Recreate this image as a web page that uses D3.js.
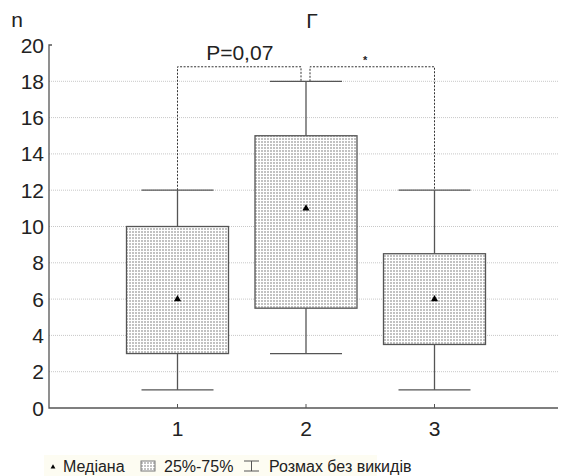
<!DOCTYPE html>
<html>
<head>
<meta charset="utf-8">
<script src="https://cdn.jsdelivr.net/npm/d3@7"></script>
<style>
body{margin:0;background:#fff}
svg{display:block}
text{font-family:"Liberation Sans",Arial,sans-serif;fill:#222}
</style>
</head>
<body>
<svg id="chart" width="564" height="476"></svg>
<script>
// groups and box stats
var groups = [1, 2, 3]
var whiskLow = [1, 3, 1]
var whiskHigh = [12, 18, 12]
var q1 = [3, 5.5, 3.5]
var q3 = [10, 15, 8.5]
var medians = [6, 11, 6]
var yTicks = [0, 2, 4, 6, 8, 10, 12, 14, 16, 18, 20]
var bracketLevel = 18.8
var legendLabels = ["Медіана", "25%-75%", "Розмах без викидів"]

var svg = d3.select("#chart")
var x = d3.scaleLinear().domain([0, 4]).range([49, 563])
var y = d3.scaleLinear().domain([0, 20]).range([408, 45])
var boxW = 102, capW = 72
var axisRight = 558

var defs = svg.append("defs")
var pat = defs.append("pattern").attr("id", "dots").attr("patternUnits", "userSpaceOnUse")
    .attr("width", 3).attr("height", 3)
pat.append("rect").attr("width", 3).attr("height", 3).attr("fill", "#fff")
pat.append("rect").attr("width", 2).attr("height", 2).attr("fill", "#c2c2c2")

// grid
svg.append("g").selectAll("line").data(yTicks.filter(function(d){return d > 0 && d < 20}))
    .enter().append("line")
    .attr("x1", x(0)).attr("x2", axisRight)
    .attr("y1", function(d){return y(d)}).attr("y2", function(d){return y(d)})
    .attr("stroke", "#c8c8c8").attr("stroke-width", 1).attr("stroke-dasharray", "1,1")

// axes
svg.append("path").attr("d", "M" + (x(0) + 3) + "," + y(20) + "H" + x(0) + "V" + y(0) + "H" + axisRight)
    .attr("fill", "none").attr("stroke", "#555").attr("stroke-width", 1.3)
svg.append("g").selectAll("line").data(groups).enter().append("line")
    .attr("x1", function(d){return x(d)}).attr("x2", function(d){return x(d)})
    .attr("y1", y(0)).attr("y2", y(0) - 4).attr("stroke", "#555")

svg.append("g").selectAll("text").data(yTicks).enter().append("text")
    .attr("x", 44).attr("y", function(d){return y(d) + 7.5})
    .attr("text-anchor", "end").attr("font-size", "21px").text(function(d){return d})
svg.append("g").selectAll("text").data(groups).enter().append("text")
    .attr("x", function(d){return x(d)}).attr("y", 436)
    .attr("text-anchor", "middle").attr("font-size", "21px").text(function(d){return d})

svg.append("text").attr("x", 17).attr("y", 27).attr("text-anchor", "middle").attr("font-size", "21px").text("n")
svg.append("text").attr("x", 312).attr("y", 28).attr("text-anchor", "middle").attr("font-size", "21px").text("Г")

// brackets
var dash = "2,1.5"
svg.append("path")
    .attr("d", "M" + x(1) + "," + y(whiskHigh[0]) + "V" + y(bracketLevel) + "H" + (x(2) - 5) + "V" + y(whiskHigh[1]))
    .attr("fill", "none").attr("stroke", "#333").attr("stroke-dasharray", dash)
svg.append("path")
    .attr("d", "M" + (x(2) + 4) + "," + y(whiskHigh[1]) + "V" + y(bracketLevel) + "H" + x(3) + "V" + y(whiskHigh[2]))
    .attr("fill", "none").attr("stroke", "#333").attr("stroke-dasharray", dash)
svg.append("text").attr("x", (x(1) + x(2)) / 2 - 2).attr("y", 60).attr("text-anchor", "middle")
    .attr("font-size", "21px").text("P=0,07")
svg.append("text").attr("x", (x(2) + x(3)) / 2 - 5).attr("y", 64).attr("text-anchor", "middle")
    .attr("font-size", "11px").attr("font-weight", "bold").text("*")

// boxes
var g = svg.append("g").selectAll("g").data(groups).enter().append("g")
g.append("line")
    .attr("x1", function(d){return x(d)}).attr("x2", function(d){return x(d)})
    .attr("y1", function(d, i){return y(whiskLow[i])}).attr("y2", function(d, i){return y(whiskHigh[i])})
    .attr("stroke", "#555").attr("stroke-width", 1.3)
g.append("line")
    .attr("x1", function(d){return x(d) - capW / 2}).attr("x2", function(d){return x(d) + capW / 2})
    .attr("y1", function(d, i){return y(whiskLow[i])}).attr("y2", function(d, i){return y(whiskLow[i])})
    .attr("stroke", "#555").attr("stroke-width", 1.3)
g.append("line")
    .attr("x1", function(d){return x(d) - capW / 2}).attr("x2", function(d){return x(d) + capW / 2})
    .attr("y1", function(d, i){return y(whiskHigh[i])}).attr("y2", function(d, i){return y(whiskHigh[i])})
    .attr("stroke", "#555").attr("stroke-width", 1.3)
g.append("rect")
    .attr("x", function(d){return x(d) - boxW / 2}).attr("width", boxW)
    .attr("y", function(d, i){return y(q3[i])}).attr("height", function(d, i){return y(q1[i]) - y(q3[i])})
    .attr("fill", "url(#dots)").attr("stroke", "#555").attr("stroke-width", 1.3)
g.append("path")
    .attr("d", d3.symbol().type(d3.symbolTriangle).size(22))
    .attr("transform", function(d, i){return "translate(" + x(d) + "," + y(medians[i]) + ")"})
    .attr("fill", "#000")

// legend
var lg = svg.append("g")
lg.append("rect").attr("x", 44).attr("y", 455).attr("width", 333).attr("height", 21).attr("fill", "#fdfcf2")
lg.append("path").attr("d", d3.symbol().type(d3.symbolTriangle).size(10)).attr("transform", "translate(53,467)").attr("fill", "#000")
lg.append("rect").attr("x", 141).attr("y", 461).attr("width", 14).attr("height", 10)
    .attr("fill", "url(#dots)").attr("stroke", "#777")
lg.append("path").attr("d", "M244,461H259M251.5,461V471M244,471H259").attr("stroke", "#555").attr("fill", "none")
var lx = [63, 164, 269]
lg.selectAll("text.l").data(legendLabels).enter().append("text")
    .attr("x", function(d, i){return lx[i]}).attr("y", 472).attr("font-size", "16px").text(function(d){return d})
</script>
</body>
</html>
